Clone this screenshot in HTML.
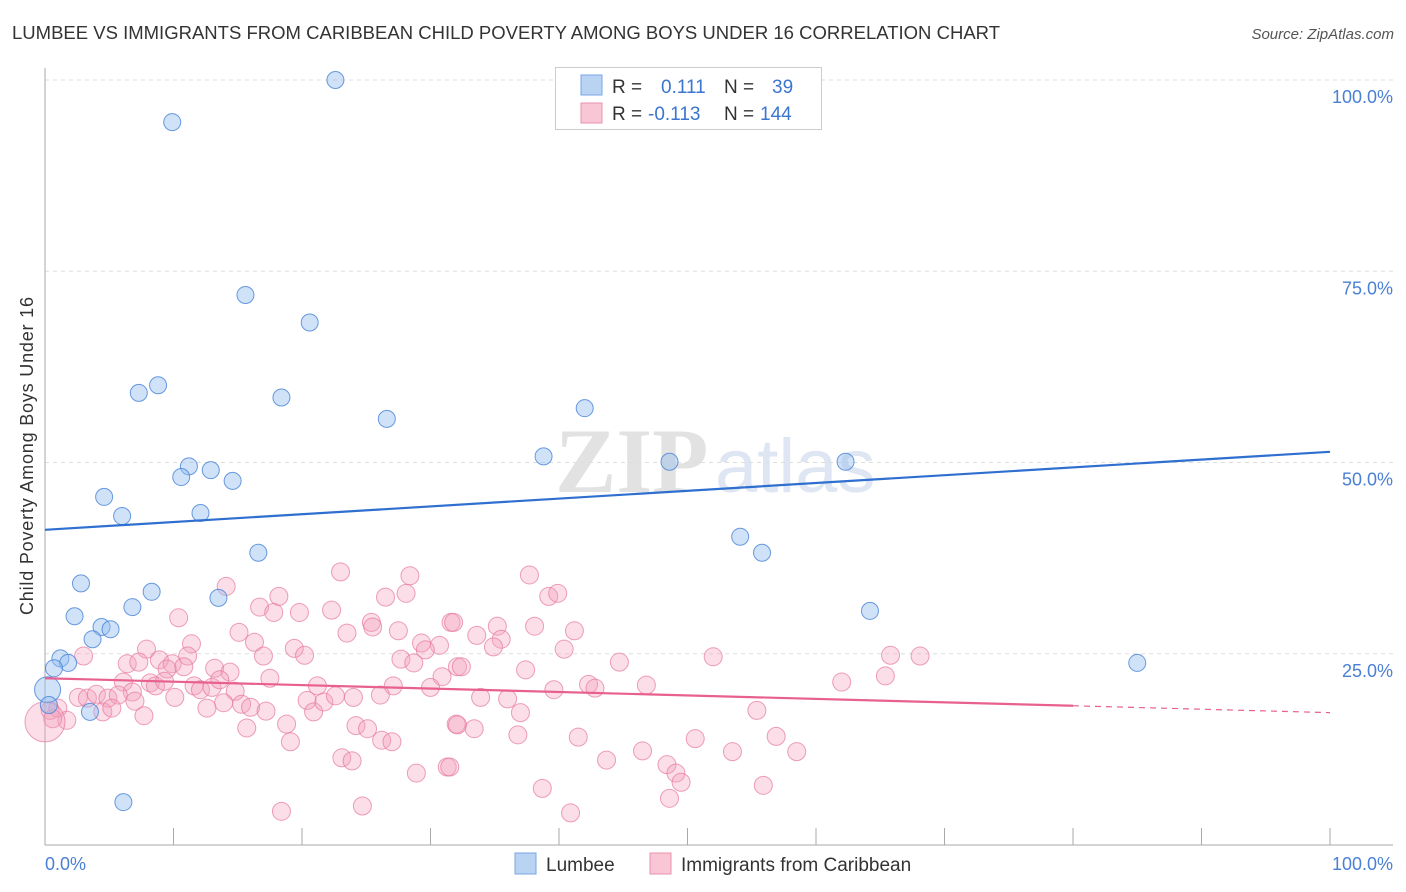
<!DOCTYPE html>
<html><head><meta charset="utf-8"><style>
body{margin:0;background:#fff;font-family:"Liberation Sans",sans-serif}
svg{display:block}
</style></head><body>
<svg id="chart" width="1406" height="892" xmlns="http://www.w3.org/2000/svg">
<text x="12" y="39" font-size="18.5" fill="#333" textLength="988">LUMBEE VS IMMIGRANTS FROM CARIBBEAN CHILD POVERTY AMONG BOYS UNDER 16 CORRELATION CHART</text>
<text x="1394" y="39" font-size="15" fill="#555" text-anchor="end" font-style="italic">Source: ZipAtlas.com</text>
<g>
<text x="555" y="492" font-size="92" font-family="Liberation Serif" fill="#e2e2e2" font-weight="bold">ZIP</text>
<text x="715" y="492" font-size="76" fill="#dde6f2">atlas</text>
</g>
<g id="grid"></g>
<g id="axes"></g>
<g id="pinkpts"></g>
<g id="bluepts"></g>
<g id="trends"></g>
<text x="33" y="456" font-size="18" fill="#333" text-anchor="middle" transform="rotate(-90 33 456)" textLength="318">Child Poverty Among Boys Under 16</text>
<text x="45" y="870" font-size="18" fill="#4a7fd6">0.0%</text>
<text x="1393" y="870" font-size="18" fill="#4a7fd6" text-anchor="end">100.0%</text>
<g>
<rect x="555.5" y="67.5" width="266" height="62" fill="#fff" stroke="#ccc"/>
<rect x="581" y="75" width="21" height="20" fill="#b9d3f3" stroke="#7aa6e4"/>
<rect x="581" y="103" width="21" height="20" fill="#f9c6d5" stroke="#ea93ae"/>
<text x="612" y="93" font-size="19" fill="#333">R =</text>
<text x="661" y="93" font-size="19" fill="#3a75d0">0.111</text>
<text x="724" y="93" font-size="19" fill="#333">N =</text>
<text x="772" y="93" font-size="19" fill="#3a75d0">39</text>
<text x="612" y="120" font-size="19" fill="#333">R =</text>
<text x="648" y="120" font-size="19" fill="#3a75d0">-0.113</text>
<text x="724" y="120" font-size="19" fill="#333">N =</text>
<text x="760" y="120" font-size="19" fill="#3a75d0">144</text>
</g>
<g>
<rect x="515" y="853" width="21" height="21" fill="#b9d3f3" stroke="#7aa6e4"/>
<text x="546" y="871" font-size="19" fill="#333">Lumbee</text>
<rect x="650" y="853" width="21" height="21" fill="#f9c6d5" stroke="#ea93ae"/>
<text x="681" y="871" font-size="19" fill="#333">Immigrants from Caribbean</text>
</g>
</svg>
<script>
const yTicks=[25,50,75,100];
const yTickLabels=["25.0%","50.0%","75.0%","100.0%"];
const xTicks=[10,20,30,40,50,60,70,80,90,100];
const blueX=[22.6,9.9,15.6,20.6,8.8,7.3,18.4,26.6,42.0,38.8,48.6,62.3,11.2,10.6,12.9,14.6,4.6,12.1,6.0,54.1,55.8,16.6,2.8,8.3,13.5,6.8,2.3,64.2,4.4,5.1,3.7,1.2,1.8,0.7,85.0,0.2,0.3,3.5,6.1];
const blueY=[100.0,94.5,71.9,68.3,60.1,59.1,58.5,55.7,57.1,50.8,50.1,50.1,49.5,48.1,49.0,47.6,45.5,43.4,43.0,40.3,38.2,38.2,34.2,33.1,32.3,31.1,29.9,30.6,28.5,28.2,26.9,24.4,23.8,23.1,23.8,20.3,18.3,17.4,5.6];
const pinkX=[23.0,28.4,14.1,18.2,26.5,28.1,16.7,17.8,19.8,22.3,10.4,25.4,25.5,31.6,15.1,23.5,27.5,16.3,11.4,19.4,29.3,30.7,7.9,3.0,17.0,20.2,29.6,27.7,28.7,11.1,6.4,7.3,8.9,9.9,10.8,13.2,14.4,9.5,32.1,6.1,8.2,8.6,9.3,11.6,12.1,13.0,13.6,17.5,14.8,21.2,27.1,30.9,30.0,6.8,2.6,3.3,4.0,4.9,5.7,7.0,10.1,13.9,15.3,16.0,12.6,17.2,20.4,20.9,21.7,22.6,24.0,26.1,0.4,1.0,1.7,4.5,5.2,7.7,15.7,18.8,19.1,24.2,25.1,26.2,27.0,32.0,23.1,23.9,28.9,31.3,18.4,24.7,37.7,39.2,39.9,31.8,33.6,35.2,35.5,34.9,38.1,41.2,40.4,44.7,52.0,65.8,68.1,65.4,62.0,32.4,37.4,33.9,36.0,39.6,42.3,42.8,46.8,37.0,32.1,33.4,36.8,41.5,55.4,56.9,50.6,53.5,58.5,46.5,43.7,48.4,49.1,49.5,48.6,55.9,38.7,40.9,31.5,0.6,0.0];
const pinkY=[35.7,35.2,33.8,32.5,32.4,32.9,31.1,30.4,30.4,30.7,29.7,29.1,28.5,29.1,27.8,27.7,28.0,26.5,26.3,25.7,26.4,26.1,25.6,24.7,24.7,24.8,25.5,24.3,23.8,24.7,23.7,23.9,24.2,23.7,23.3,23.1,22.6,23.0,23.3,21.3,21.2,20.8,21.4,20.8,20.3,20.6,21.6,21.8,20.1,20.8,20.8,22.0,20.6,20.0,19.3,19.2,19.7,19.2,19.6,18.8,19.3,18.6,18.4,18.0,17.9,17.5,18.9,17.4,18.7,19.5,19.3,19.6,17.6,17.9,16.3,17.4,17.9,16.9,15.3,15.8,13.5,15.6,15.2,13.7,13.5,15.8,11.4,11.0,9.4,10.2,4.4,5.1,35.3,32.5,32.9,29.1,27.4,28.6,26.9,25.9,28.6,28.0,25.6,23.9,24.6,24.8,24.7,22.1,21.3,23.3,22.9,19.3,19.1,20.3,21.0,20.5,20.9,17.3,15.7,15.2,14.4,14.1,17.6,14.2,13.9,12.2,12.2,12.3,11.1,10.5,9.4,8.2,6.1,7.8,7.4,4.2,10.2,16.5,16.1];
const blueTrend=[41.2,51.4];
const pinkTrend=[21.8,17.3];
const NS="http://www.w3.org/2000/svg";
const X0=45,X1=1330,YB=845,YT=80;
function sx(v){return X0+(X1-X0)*v/100;}
function sy(v){return YB-(YB-YT)*v/100;}
function mk(tag,attrs,parent){const e=document.createElementNS(NS,tag);for(const k in attrs)e.setAttribute(k,attrs[k]);parent.appendChild(e);return e;}
const grid=document.getElementById('grid'),axes=document.getElementById('axes');
yTicks.forEach((t,i)=>{
 const l=mk('line',{x1:X0,x2:1393,y1:sy(t),y2:sy(t),stroke:'#ddd','stroke-dasharray':'4,4'},grid);
 
 
 const tx=mk('text',{x:1393,y:sy(t)+23,'font-size':18,fill:'#4a7fd6','text-anchor':'end'},grid);
 tx.textContent=yTickLabels[i];
 
 
});
const ya=mk('line',{x1:X0,x2:X0,y1:68,y2:YB,stroke:'#aaa'},axes);


const xa=mk('line',{x1:X0,x2:1393,y1:YB,y2:YB,stroke:'#aaa'},axes);


xTicks.forEach(t=>{
 const l=mk('line',{x1:sx(t),x2:sx(t),y1:YB-17,y2:YB,stroke:'#aaa'},axes);
 
 
});
const pg=document.getElementById('pinkpts');
pinkX.forEach((v,i)=>{
 const big=(i===pinkX.length-1);
 const c=mk('circle',{cx:sx(v),cy:sy(pinkY[i]),r:big?20:9,fill:'rgba(244,160,188,0.35)',stroke:'rgba(230,120,155,0.7)','stroke-width':1},pg);
 
 
});
const bg=document.getElementById('bluepts');
blueX.forEach((v,i)=>{
 const big=(v<=0.2);
 const c=mk('circle',{cx:sx(v),cy:sy(blueY[i]),r:big?13:8.5,fill:'rgba(150,190,240,0.45)',stroke:'rgba(70,130,215,0.8)','stroke-width':1},bg);
 
 
});
const tg=document.getElementById('trends');
const bl=mk('line',{x1:sx(0),y1:sy(blueTrend[0]),x2:sx(100),y2:sy(blueTrend[1]),stroke:'#2f6fd0','stroke-width':2.2},tg);


const p80=pinkTrend[0]+(pinkTrend[1]-pinkTrend[0])*0.8;
const pl=mk('line',{x1:sx(0),y1:sy(pinkTrend[0]),x2:sx(80),y2:sy(p80),stroke:'#e8608f','stroke-width':2.2},tg);


const pd=mk('line',{x1:sx(80),y1:sy(p80),x2:sx(100),y2:sy(pinkTrend[1]),stroke:'#e8608f','stroke-width':1.2,'stroke-dasharray':'6,5'},tg);


</script>
</body></html>
